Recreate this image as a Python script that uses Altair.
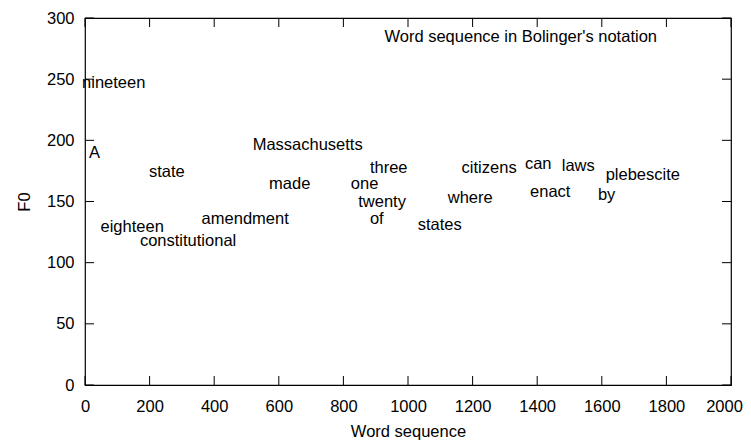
import altair as alt
import pandas as pd

# Words and their (time, F0) positions
words = ["A", "nineteen", "eighteen", "state", "constitutional", "amendment",
         "made", "Massachusetts", "one", "of", "twenty", "three", "states",
         "where", "citizens", "can", "enact", "laws", "by", "plebescite"]
word_x = [12, -9, 48, 198, 170, 361, 570, 519, 823, 882, 846, 882, 1030,
          1123, 1166, 1362, 1378, 1476, 1588, 1612]
word_f0 = [190, 247, 129, 174, 118, 136, 164, 196, 164, 136, 150, 177, 131,
           153, 177, 181, 158, 179, 155, 172]

x_ticks = [0, 200, 400, 600, 800, 1000, 1200, 1400, 1600, 1800, 2000]
y_ticks = [0, 50, 100, 150, 200, 250, 300]
key_label = ["Word sequence in Bolinger's notation"]

W, H = 646, 367
FONT = "Liberation Sans"
FS = 16.5
TICK = 9

df = pd.DataFrame({"word": words, "x": word_x, "f0": word_f0})
xt = pd.DataFrame({"x": x_ticks})
yt = pd.DataFrame({"f0": y_ticks})

xscale = alt.Scale(domain=[0, 2000], nice=False, zero=False)
yscale = alt.Scale(domain=[0, 300], nice=False, zero=False)

axis_common = dict(ticks=False, domain=False, grid=False, labelFont=FONT,
                   labelFontSize=FS, labelColor="black", titleFont=FONT,
                   titleFontSize=FS, titleColor="black", titleFontWeight="normal",
                   format="d")
x_axis = alt.Axis(values=x_ticks, title="Word sequence", labelPadding=13,
                  titlePadding=9, labelFlush=False,
                  labelOffset={"condition": {"test": "datum.value == 2000", "value": -7},
                               "value": 0},
                  **axis_common)
y_axis = alt.Axis(values=y_ticks, title="F0", labelPadding=11,
                  titlePadding=14, **axis_common)

X = alt.X("x:Q", scale=xscale, axis=x_axis)
Y = alt.Y("f0:Q", scale=yscale, axis=y_axis)

labels = alt.Chart(df).mark_text(
    align="left", baseline="middle", font=FONT, fontSize=FS, color="black", clip=False
).encode(x=X, y=Y, text="word:N")

xb = alt.Chart(xt).mark_rule(color="black", strokeWidth=1).encode(
    x=X, y=alt.value(H), y2=alt.value(H - TICK))
xtop = alt.Chart(xt).mark_rule(color="black", strokeWidth=1).encode(
    x=X, y=alt.value(0), y2=alt.value(TICK))
yl = alt.Chart(yt).mark_rule(color="black", strokeWidth=1).encode(
    y=Y, x=alt.value(0), x2=alt.value(TICK))
yr = alt.Chart(yt).mark_rule(color="black", strokeWidth=1).encode(
    y=Y, x=alt.value(W), x2=alt.value(W - TICK))

key = alt.Chart(pd.DataFrame({"t": key_label})).mark_text(
    align="right", baseline="middle", font=FONT, fontSize=FS, color="black"
).encode(x=alt.value(572), y=alt.value(19), text="t:N")

chart = alt.layer(labels, xb, xtop, yl, yr, key).properties(
    width=W, height=H,
    padding={"left": 77, "top": 10, "right": 12, "bottom": 55},
    autosize=alt.AutoSizeParams(type="none"),
).configure_view(stroke="black", strokeWidth=1.2)

chart.save("out.html", embed_options={"renderer": "svg", "actions": False})
